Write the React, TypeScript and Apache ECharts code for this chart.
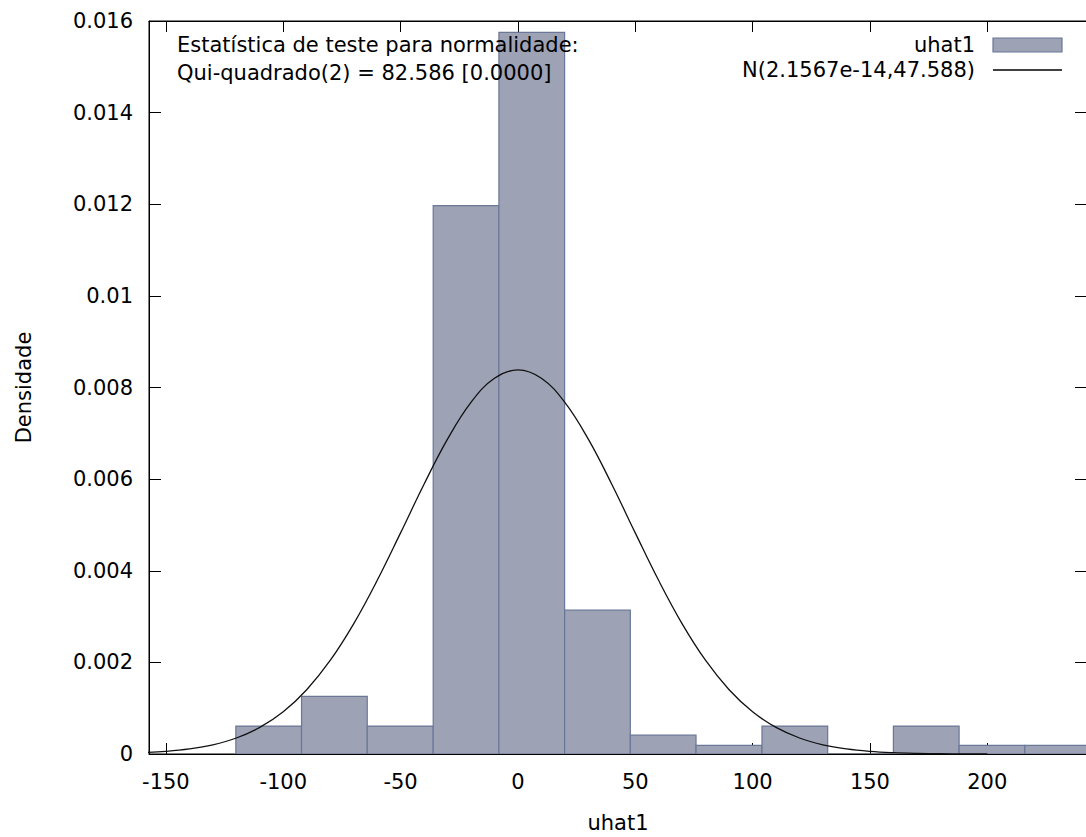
import React, { useEffect, useRef } from "react";
import * as echarts from "echarts";

// Histogram bins (edges) and densities
const binEdges = [-120.2, -92.2, -64.2, -36.1, -8.1, 19.9, 47.9, 75.9, 104.0, 132.0, 160.0, 188.0, 216.0, 244.0];
const densities = [0.00061, 0.00126, 0.00061, 0.01197, 0.01575, 0.00314, 0.00041, 0.00019, 0.00061, 0, 0.00061, 0.00019, 0.00019];

const curveX = [-160, -150, -140, -130, -120, -110, -100, -90, -80, -70, -60, -50, -40, -30, -20, -10, 0,
  10, 20, 30, 40, 50, 60, 70, 80, 90, 100, 110, 120, 130, 140, 150, 160, 170, 180, 190, 200];
const curveY = [0.0000294, 0.0000583, 0.000111, 0.000201, 0.000349, 0.00058, 0.000921, 0.001402, 0.002041,
  0.002841, 0.003786, 0.004827, 0.005888, 0.006872, 0.007675, 0.0082, 0.008383,
  0.0082, 0.007675, 0.006872, 0.005888, 0.004827, 0.003786, 0.002841, 0.002041, 0.001402, 0.000921,
  0.00058, 0.000349, 0.000201, 0.000111, 0.0000583, 0.0000294, 0.0000142, 0.0000066, 0.000003, 0.0000012];

const xTicks = [-150, -100, -50, 0, 50, 100, 150, 200];
const xMin = -157.2;
const xMax = 242.5;
const yMin = 0;
const yMax = 0.016;
const yStep = 0.002;

const statLines = ["Estatística de teste para normalidade:", "Qui-quadrado(2) = 82.586 [0.0000]"];
const histName = "uhat1";
const curveName = "N(2.1567e-14,47.588)";

const FONT = "DejaVu Sans";
const FS = 21;
const BAR_FILL = "#9da2b5";
const BAR_STROKE = "#6a7797";

export default function App() {
  const ref = useRef<HTMLDivElement>(null);

  useEffect(() => {
    if (!ref.current) return;
    const chart = echarts.init(ref.current, undefined, { renderer: "svg" });

    const histData = densities.map((d, i) => [binEdges[i], binEdges[i + 1], d]);
    const curveData = curveX.map((x, i) => [x, curveY[i]]);

    const textStyle = { fontFamily: FONT, fontSize: FS, color: "#000" };

    const option: any = {
      animation: false,
      backgroundColor: "#fff",
      grid: {
        left: 149,
        right: -1,
        top: 21,
        bottom: 83,
        show: true,
        borderColor: "#000",
        borderWidth: 1,
        containLabel: false,
        outerBoundsMode: "none",
      },
      xAxis: [
        {
          type: "value",
          min: xMin,
          max: xMax,
          position: "bottom",
          name: "uhat1",
          nameLocation: "middle",
          nameGap: 58,
          nameTextStyle: { ...textStyle },
          axisLine: { show: true, onZero: false, lineStyle: { color: "#000", width: 1 } },
          axisTick: { show: true, inside: true, length: 11, customValues: xTicks, lineStyle: { color: "#000", width: 1 } },
          axisLabel: { customValues: xTicks, margin: 17, ...textStyle },
          splitLine: { show: false },
        },
        {
          type: "value",
          min: xMin,
          max: xMax,
          position: "top",
          axisLine: { show: true, onZero: false, lineStyle: { color: "#000", width: 1 } },
          axisTick: { show: true, inside: true, length: 11, customValues: xTicks, lineStyle: { color: "#000", width: 1 } },
          axisLabel: { show: false },
          splitLine: { show: false },
        },
      ],
      yAxis: [
        {
          type: "value",
          min: yMin,
          max: yMax,
          interval: yStep,
          position: "left",
          name: "Densidade",
          nameLocation: "middle",
          nameGap: 115,
          nameRotate: 90,
          nameTextStyle: { ...textStyle },
          axisLine: { show: true, onZero: false, lineStyle: { color: "#000", width: 1 } },
          axisTick: { show: true, inside: true, length: 12, lineStyle: { color: "#000", width: 1 } },
          axisLabel: { margin: 16, ...textStyle },
          splitLine: { show: false },
        },
        {
          type: "value",
          min: yMin,
          max: yMax,
          interval: yStep,
          position: "right",
          axisLine: { show: true, onZero: false, lineStyle: { color: "#000", width: 1 } },
          axisTick: { show: true, inside: true, length: 12, lineStyle: { color: "#000", width: 1 } },
          axisLabel: { show: false },
          splitLine: { show: false },
        },
      ],
      series: [
        {
          name: histName,
          type: "custom",
          xAxisIndex: 0,
          yAxisIndex: 0,
          clip: true,
          data: histData,
          encode: { x: [0, 1], y: 2 },
          renderItem: (params: any, api: any) => {
            const p0 = api.coord([api.value(0), api.value(2)]);
            const p1 = api.coord([api.value(1), 0]);
            return {
              type: "rect",
              shape: { x: p0[0], y: p0[1], width: p1[0] - p0[0], height: p1[1] - p0[1] },
              style: { fill: BAR_FILL, stroke: BAR_STROKE, lineWidth: 1.2 },
            };
          },
          z: 2,
        },
        {
          name: curveName,
          type: "line",
          xAxisIndex: 0,
          yAxisIndex: 0,
          data: curveData,
          smooth: 0.4,
          showSymbol: false,
          symbol: "none",
          clip: true,
          lineStyle: { color: "#111", width: 1.3 },
          z: 3,
        },
      ],
      graphic: [
        {
          type: "text",
          x: 177,
          y: 45,
          z: 10,
          style: { text: statLines[0], font: `${FS}px "${FONT}"`, fill: "#000", textAlign: "left", textVerticalAlign: "middle" },
        },
        {
          type: "text",
          x: 177,
          y: 73,
          z: 10,
          style: { text: statLines[1], font: `${FS}px "${FONT}"`, fill: "#000", textAlign: "left", textVerticalAlign: "middle" },
        },
        {
          type: "text",
          x: 975,
          y: 45,
          z: 10,
          style: { text: histName, font: `${FS}px "${FONT}"`, fill: "#000", textAlign: "right", textVerticalAlign: "middle" },
        },
        {
          type: "rect",
          z: 10,
          shape: { x: 993, y: 38, width: 69, height: 14 },
          style: { fill: BAR_FILL, stroke: BAR_STROKE, lineWidth: 1.2 },
        },
        {
          type: "text",
          x: 975,
          y: 70,
          z: 10,
          style: { text: curveName, font: `${FS}px "${FONT}"`, fill: "#000", textAlign: "right", textVerticalAlign: "middle" },
        },
        {
          type: "line",
          z: 10,
          shape: { x1: 993, y1: 70, x2: 1062, y2: 70 },
          style: { stroke: "#000", lineWidth: 1.3 },
        },
      ],
    };

    chart.setOption(option);
    return () => chart.dispose();
  }, []);

  return (
    <div
      ref={ref}
      style={{ position: "absolute", left: 0, top: 0, width: 1086, height: 837 }}
    />
  );
}
